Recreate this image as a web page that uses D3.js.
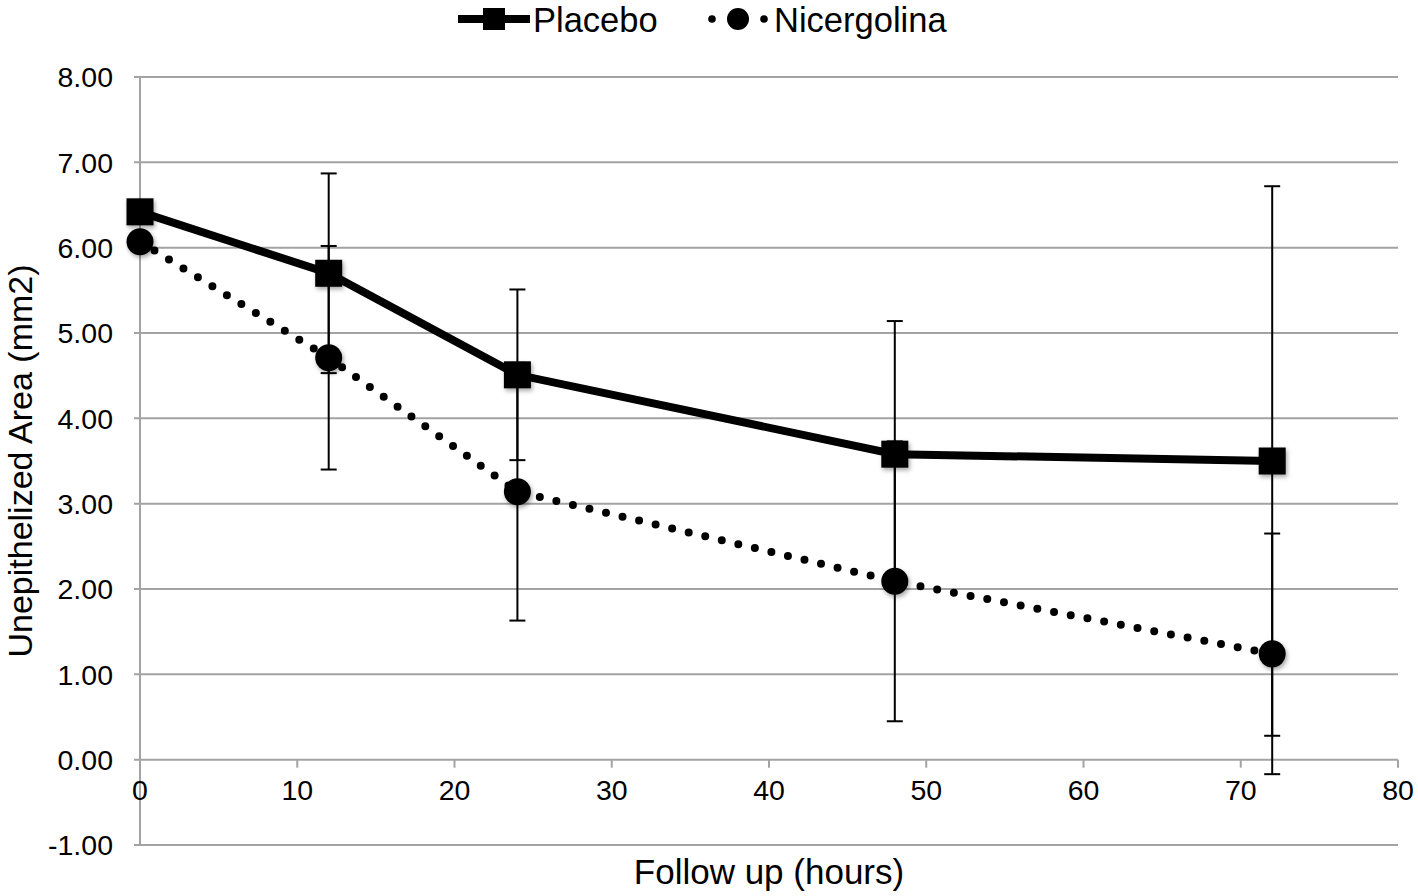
<!DOCTYPE html>
<html>
<head>
<meta charset="utf-8">
<script src="https://cdn.jsdelivr.net/npm/d3@7"></script>
<style>
  html, body { margin: 0; padding: 0; background: #fff; }
  svg text { font-family: "Liberation Sans", Arial, Helvetica, sans-serif; fill: #000; }
</style>
</head>
<body>
<svg id="chart" width="1418" height="896"></svg>
<script>
// ---- data ----
const hours = [0, 12, 24, 48, 72];
const placebo = [6.42, 5.70, 4.51, 3.58, 3.50];
const placeboErr = [0, 1.17, 1.00, 1.56, 3.22];
const nicergolina = [6.07, 4.71, 3.14, 2.09, 1.24];
const nicergolinaErr = [0, 1.31, 1.51, 1.64, 1.41];
const xTicks = [0, 10, 20, 30, 40, 50, 60, 70, 80];
const yTicks = [-1, 0, 1, 2, 3, 4, 5, 6, 7, 8];
const yTickLabels = ["-1.00", "0.00", "1.00", "2.00", "3.00", "4.00", "5.00", "6.00", "7.00", "8.00"];
const seriesNames = ["Placebo", "Nicergolina"];

const svg = d3.select("#chart");
const x = d3.scaleLinear().domain([0, 80]).range([140, 1398]);
const y = d3.scaleLinear().domain([-1, 8]).range([845, 77]);
const gridColor = "#a3a3a3";

// shadow filter
const defs = svg.append("defs");
const f = defs.append("filter").attr("id", "shadow").attr("x", "-50%").attr("y", "-50%").attr("width", "200%").attr("height", "200%");
f.append("feDropShadow").attr("dx", 1.5).attr("dy", 2.5).attr("stdDeviation", 2).attr("flood-color", "#000").attr("flood-opacity", 0.35);

// gridlines
svg.append("g").selectAll("line").data(yTicks).join("line")
  .attr("x1", x(0) - 6).attr("x2", x(80))
  .attr("y1", d => y(d)).attr("y2", d => y(d))
  .attr("stroke", gridColor).attr("stroke-width", 2);

// left axis line
svg.append("line").attr("x1", x(0)).attr("x2", x(0)).attr("y1", y(8)).attr("y2", y(-1))
  .attr("stroke", gridColor).attr("stroke-width", 2);

// x ticks on zero line
svg.append("g").selectAll("line").data(xTicks).join("line")
  .attr("x1", d => x(d)).attr("x2", d => x(d))
  .attr("y1", y(0)).attr("y2", y(0) + 8)
  .attr("stroke", gridColor).attr("stroke-width", 2);

// y tick labels
svg.append("g").selectAll("text").data(yTicks).join("text")
  .attr("x", 113).attr("y", d => y(d)).attr("dy", "0.36em")
  .attr("text-anchor", "end").attr("font-size", 28.5)
  .text((d, i) => yTickLabels[i]);

// x tick labels
svg.append("g").selectAll("text").data(xTicks).join("text")
  .attr("x", d => x(d)).attr("y", y(0) + 40)
  .attr("text-anchor", "middle").attr("font-size", 28.5)
  .text(d => d);

// axis titles
svg.append("text").attr("x", (x(0) + x(80)) / 2).attr("y", 884)
  .attr("text-anchor", "middle").attr("font-size", 35).text("Follow up (hours)");
svg.append("text").attr("transform", `translate(32, ${(y(8) + y(-1)) / 2}) rotate(-90)`)
  .attr("text-anchor", "middle").attr("font-size", 34).text("Unepithelized Area (mm2)");

// error bars
function errorBars(vals, errs) {
  const data = hours.map((h, i) => ({h, v: vals[i], e: errs[i]})).filter(d => d.e > 0);
  const g = svg.append("g").attr("stroke", "#000").attr("stroke-width", 2);
  g.selectAll("line.v").data(data).join("line")
    .attr("x1", d => x(d.h)).attr("x2", d => x(d.h))
    .attr("y1", d => y(d.v + d.e)).attr("y2", d => y(d.v - d.e));
  g.selectAll("line.t").data(data).join("line")
    .attr("x1", d => x(d.h) - 8).attr("x2", d => x(d.h) + 8)
    .attr("y1", d => y(d.v + d.e)).attr("y2", d => y(d.v + d.e));
  g.selectAll("line.b").data(data).join("line")
    .attr("x1", d => x(d.h) - 8).attr("x2", d => x(d.h) + 8)
    .attr("y1", d => y(d.v - d.e)).attr("y2", d => y(d.v - d.e));
}
errorBars(placebo, placeboErr);
errorBars(nicergolina, nicergolinaErr);

const line = d3.line().x((d, i) => x(hours[i])).y(d => y(d));

// Nicergolina dotted line
svg.append("path").datum(nicergolina).attr("d", line)
  .attr("fill", "none").attr("stroke", "#000").attr("stroke-width", 8)
  .attr("stroke-linecap", "round").attr("stroke-dasharray", "0 17");
// Placebo solid line
svg.append("path").datum(placebo).attr("d", line)
  .attr("fill", "none").attr("stroke", "#000").attr("stroke-width", 8);

// markers
svg.append("g").attr("filter", "url(#shadow)").selectAll("circle").data(nicergolina).join("circle")
  .attr("cx", (d, i) => x(hours[i])).attr("cy", d => y(d)).attr("r", 13.5).attr("fill", "#000");
svg.append("g").attr("filter", "url(#shadow)").selectAll("rect").data(placebo).join("rect")
  .attr("x", (d, i) => x(hours[i]) - 13.5).attr("y", d => y(d) - 13.5)
  .attr("width", 27).attr("height", 27).attr("fill", "#000");

// legend
const lg = svg.append("g");
lg.append("line").attr("x1", 458).attr("x2", 530).attr("y1", 19).attr("y2", 19)
  .attr("stroke", "#000").attr("stroke-width", 8);
lg.append("rect").attr("x", 483).attr("y", 8).attr("width", 22).attr("height", 22).attr("fill", "#000");
lg.append("text").attr("x", 533).attr("y", 20).attr("dy", "0.36em").attr("font-size", 34.5).text(seriesNames[0]);

lg.selectAll("circle.dot").data([712, 764]).join("circle")
  .attr("cx", d => d).attr("cy", 19).attr("r", 3.8).attr("fill", "#000");
lg.append("circle").attr("cx", 738).attr("cy", 19).attr("r", 11).attr("fill", "#000");
lg.append("text").attr("x", 774).attr("y", 20).attr("dy", "0.36em").attr("font-size", 34.5).text(seriesNames[1]);
</script>
</body>
</html>
